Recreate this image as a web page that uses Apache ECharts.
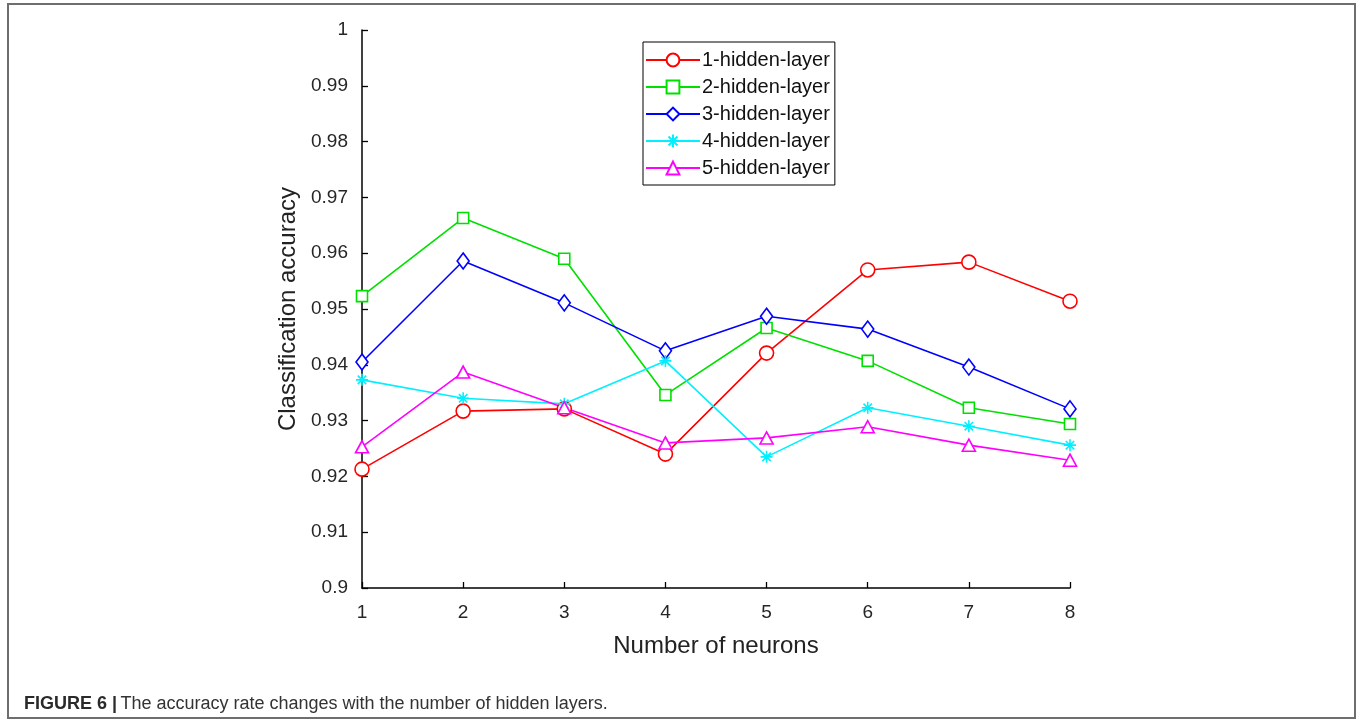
<!DOCTYPE html>
<html>
<head>
<meta charset="utf-8">
<script src="https://cdn.jsdelivr.net/npm/echarts@6/dist/echarts.min.js"></script>
<style>
html,body{margin:0;padding:0;background:#fff;}
#chart{width:1360px;height:722px;}
</style>
</head>
<body>
<div id="chart"></div>
<script>
const categories = ['1','2','3','4','5','6','7','8'];
const yTicks = [0.9, 0.91, 0.92, 0.93, 0.94, 0.95, 0.96, 0.97, 0.98, 0.99, 1];
const layer1 = [0.9213, 0.9317, 0.9321, 0.9240, 0.9421, 0.9570, 0.9584, 0.9514];
const layer2 = [0.9523, 0.9663, 0.9590, 0.9346, 0.9466, 0.9407, 0.9323, 0.9294];
const layer3 = [0.9405, 0.9586, 0.9511, 0.9425, 0.9487, 0.9464, 0.9396, 0.9321];
const layer4 = [0.9373, 0.9340, 0.9330, 0.9407, 0.9235, 0.9323, 0.9290, 0.9256];
const layer5 = [0.9253, 0.9387, 0.9323, 0.9260, 0.9269, 0.9289, 0.9256, 0.9229];
const seriesNames = ['1-hidden-layer','2-hidden-layer','3-hidden-layer','4-hidden-layer','5-hidden-layer'];

const chart = echarts.init(document.getElementById('chart'));
const font = 'Liberation Sans, Arial, sans-serif';
const asterisk = 'path://M0,-6L0,6M-6,0L6,0M-4.2,-4.2L4.2,4.2M-4.2,4.2L4.2,-4.2';

function mk(name, data, color, symbol, size) {
  return {
    name: name, type: 'line', data: data,
    symbol: symbol, symbolSize: size, showAllSymbol: true,
    lineStyle: {color: color, width: 1.6},
    itemStyle: {color: symbol === asterisk ? color : '#fff', borderColor: color, borderWidth: 1.6},
    emphasis: {disabled: true},
    animation: false
  };
}

chart.setOption({
  animation: false,
  backgroundColor: '#fff',
  grid: {left: 362, right: 290, top: 30, bottom: 134, containLabel: false},
  legend: {
    orient: 'vertical', left: 643, top: 42,
    backgroundColor: '#fff',
    borderColor: '#000', borderWidth: 1,
    padding: [8, 5, 7, 2],
    itemWidth: 54, itemHeight: 16, itemGap: 7,
    textStyle: {fontFamily: font, fontSize: 20, color: '#111', padding: [0, 0, 0, -3]},
    data: seriesNames
  },
  xAxis: {
    type: 'category', data: categories, boundaryGap: false,
    name: 'Number of neurons', nameLocation: 'middle', nameGap: 46,
    nameTextStyle: {fontFamily: font, fontSize: 24, color: '#222'},
    axisLine: {lineStyle: {color: '#000', width: 1.5}},
    axisTick: {inside: true, length: 6, lineStyle: {color: '#000', width: 1.3}},
    axisLabel: {fontFamily: font, fontSize: 19, color: '#262626', margin: 15},
    splitLine: {show: false}
  },
  yAxis: {
    type: 'value', min: 0.9, max: 1, interval: 0.01,
    name: 'Classification accuracy', nameLocation: 'middle', nameGap: 59,
    nameTextStyle: {fontFamily: font, fontSize: 24, color: '#222'},
    axisLine: {show: true, lineStyle: {color: '#000', width: 1.5}},
    axisTick: {show: true, inside: true, length: 6, lineStyle: {color: '#000', width: 1.3}},
    axisLabel: {fontFamily: font, fontSize: 19, color: '#262626', margin: 14,
      formatter: function (v) { return String(parseFloat(v.toFixed(2))); }},
    splitLine: {show: false}
  },
  series: [
    mk(seriesNames[0], layer1, '#ff0000', 'circle', 14),
    mk(seriesNames[1], layer2, '#00e000', 'rect', 11),
    mk(seriesNames[2], layer3, '#0000ff', 'diamond', [12, 16]),
    mk(seriesNames[3], layer4, '#00f0ff', asterisk, 12),
    mk(seriesNames[4], layer5, '#ff00ff', 'triangle', [13, 12])
  ],
  graphic: [
    {type: 'rect', shape: {x: 8, y: 4, width: 1347, height: 714},
     style: {fill: 'none', stroke: '#6e6e6e', lineWidth: 2}, silent: true, z: -1},
    {type: 'text', left: 24, top: 695,
     style: {
       text: '{b|FIGURE 6 |} {n|The accuracy rate changes with the number of hidden layers.}',
       rich: {
         b: {fontFamily: font, fontSize: 18, fontWeight: 'bold', fill: '#2a2a2a'},
         n: {fontFamily: font, fontSize: 18, fill: '#333'}
       }
     }}
  ]
});
</script>
</body>
</html>
